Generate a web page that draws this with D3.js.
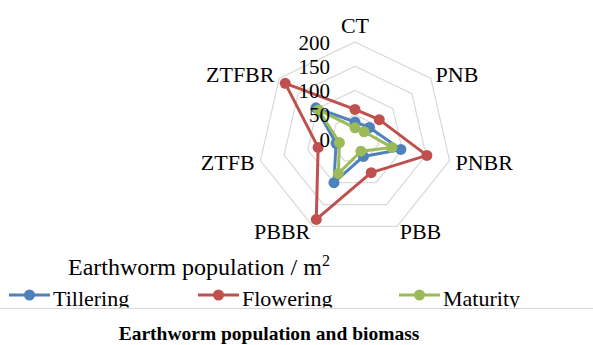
<!DOCTYPE html>
<html>
<head>
<meta charset="utf-8">
<script src="https://cdn.jsdelivr.net/npm/d3@7"></script>
<style>
  html, body { margin: 0; padding: 0; background: #fff; }
  svg { display: block; }
</style>
</head>
<body>
<svg id="chart" width="593" height="345"></svg>
<script>
const categories = ["CT", "PNB", "PNBR", "PBB", "PBBR", "ZTFB", "ZTFBR"];
const tickValues = [0, 50, 100, 150, 200];
const seriesNames = ["Tillering", "Flowering", "Maturity"];
const tillering = [35, 38, 97, 40, 100, 40, 103];
const flowering = [61, 64, 152, 77, 184, 78, 184];
const maturity  = [23, 24, 78, 28, 79, 33, 96];
const seriesValues = [tillering, flowering, maturity];
const seriesColors = ["#4f81bd", "#c0504d", "#9bbb59"];

const svg = d3.select("#chart");
const W = 593, H = 345;
const cx = 355, cy = 139, R = 97;
const serif = "'Liberation Serif', 'Times New Roman', serif";

const r = d3.scaleLinear().domain([0, 200]).range([0, R]);
const angle = d3.scalePoint().domain(categories).range([0, 2 * Math.PI * (categories.length) / categories.length]);
const ang = i => i * 2 * Math.PI / categories.length;
const px = (i, v) => cx + Math.sin(ang(i)) * r(v);
const py = (i, v) => cy - Math.cos(ang(i)) * r(v);

svg.append("rect").attr("width", W).attr("height", H).attr("fill", "#fff");

// clip for chart area
svg.append("clipPath").attr("id", "chartClip")
  .append("rect").attr("x", 0).attr("y", 0).attr("width", W).attr("height", 307.5);
const g = svg.append("g").attr("clip-path", "url(#chartClip)");

// grid rings
tickValues.filter(t => t > 0).forEach(t => {
  const pts = categories.map((c, i) => [px(i, t), py(i, t)]);
  g.append("polygon")
    .attr("points", pts.map(p => p.join(",")).join(" "))
    .attr("fill", "none")
    .attr("stroke", "#d9d9d9")
    .attr("stroke-width", 1.2);
});

// category labels
categories.forEach((c, i) => {
  const s = Math.sin(ang(i)), co = Math.cos(ang(i));
  const gap = 6;
  const vx = px(i, 200), vy = py(i, 200);
  let anchor = "middle";
  if (s > 0.1) anchor = "start"; else if (s < -0.1) anchor = "end";
  const x = vx + s * gap;
  const y = vy - co * (gap + (Math.abs(s) < 0.1 ? 11 : 0));
  g.append("text")
    .attr("x", x).attr("y", y)
    .attr("dy", "0.35em")
    .attr("text-anchor", anchor)
    .attr("font-family", serif)
    .attr("font-size", 22)
    .attr("fill", "#000")
    .text(c);
});

// series
const line = d3.line().curve(d3.curveLinearClosed);
seriesValues.forEach((vals, si) => {
  const pts = vals.map((v, i) => [px(i, v), py(i, v)]);
  g.append("path")
    .attr("d", line(pts))
    .attr("fill", "none")
    .attr("stroke", seriesColors[si])
    .attr("stroke-width", 3)
    .attr("stroke-linejoin", "round");
  g.selectAll(null).data(pts).enter().append("circle")
    .attr("cx", d => d[0]).attr("cy", d => d[1])
    .attr("r", 5.5)
    .attr("fill", seriesColors[si]);
});

// tick labels
tickValues.forEach(t => {
  g.append("text")
    .attr("x", cx - 25)
    .attr("y", cy - r(t))
    .attr("dy", "0.36em")
    .attr("text-anchor", "end")
    .attr("font-family", serif)
    .attr("font-size", 21)
    .attr("fill", "#000")
    .text(t);
});

// axis title
const title = g.append("text")
  .attr("x", 68).attr("y", 275)
  .attr("font-family", serif)
  .attr("font-size", 24)
  .attr("fill", "#000");
title.append("tspan").text("Earthworm population / m");
title.append("tspan").attr("font-size", 16).attr("dy", -9).text("2");

// legend
const legendX = [9, 198, 399];
seriesNames.forEach((n, si) => {
  const lx = legendX[si], ly = 295;
  g.append("line")
    .attr("x1", lx).attr("x2", lx + 41)
    .attr("y1", ly).attr("y2", ly)
    .attr("stroke", seriesColors[si])
    .attr("stroke-width", 3);
  g.append("circle")
    .attr("cx", lx + 20.5).attr("cy", ly).attr("r", 5.5)
    .attr("fill", seriesColors[si]);
  g.append("text")
    .attr("x", lx + 44).attr("y", 306)
    .attr("font-family", serif)
    .attr("font-size", 22)
    .attr("fill", "#000")
    .text(n);
});

// separator
svg.append("line")
  .attr("x1", 0).attr("x2", W)
  .attr("y1", 308.5).attr("y2", 308.5)
  .attr("stroke", "#d9d9d9")
  .attr("stroke-width", 1);

// bottom caption
svg.append("text")
  .attr("x", 269).attr("y", 340)
  .attr("text-anchor", "middle")
  .attr("font-family", serif)
  .attr("font-weight", "bold")
  .attr("font-size", 19.5)
  .attr("fill", "#000")
  .text("Earthworm population and biomass");
</script>
</body>
</html>
